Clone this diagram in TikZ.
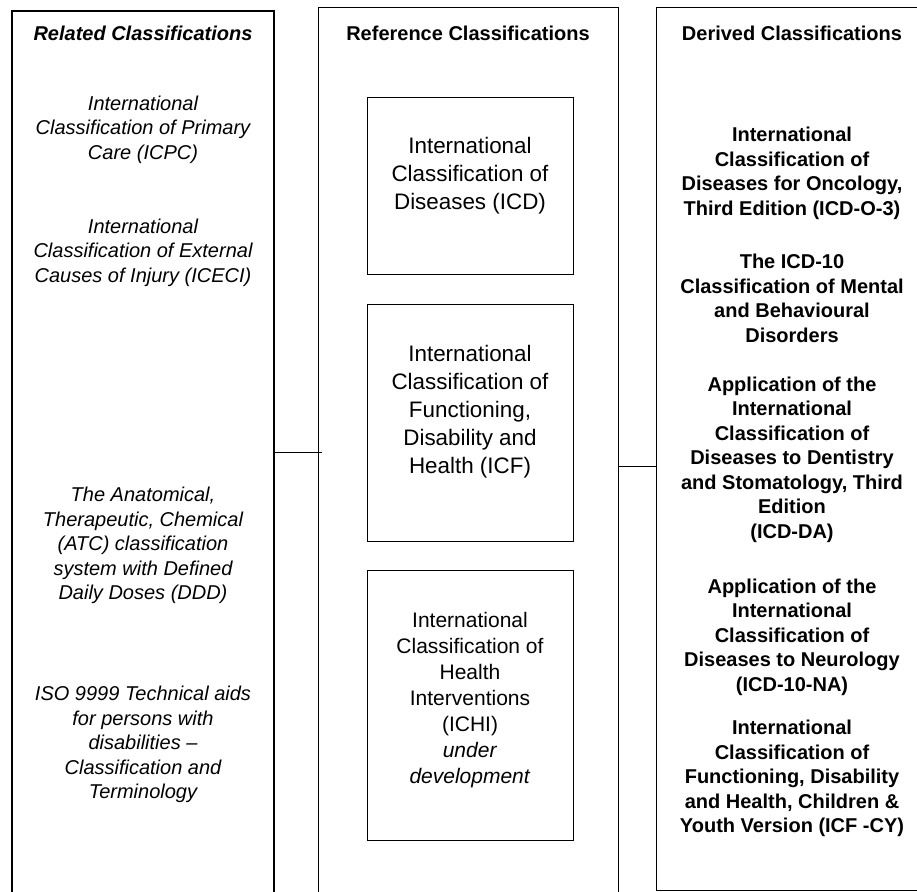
\documentclass[tikz,border=0pt]{standalone}
\usepackage{fontspec}
\setmainfont{Liberation Sans}
\usepackage{tikz}

\begin{document}
\begin{tikzpicture}[x=1pt, y=-1pt,
    every node/.style={align=center, inner sep=0pt},
    panel/.style={draw, line width=1pt, rectangle},
    inbox/.style={draw, line width=1pt, rectangle, minimum width=206},
    relatedtext/.style={font=\fontsize{20}{24.5}\selectfont\itshape},
    reftext/.style={font=\fontsize{22.4}{28}\selectfont},
    derivedtext/.style={font=\fontsize{20}{24.5}\selectfont\bfseries}]
    \useasboundingbox (0,0) rectangle (917,891);
    \clip (0,0) rectangle (917,891);

    % the three columns
    \node[panel, line width=1.3pt, minimum width=262, minimum height=882] (related) at (143,452) {};
    \node[panel, minimum width=300, minimum height=916] (reference) at (468,466) {};
    \node[panel, minimum width=272, minimum height=882] (derived) at (792,449) {};

    \draw[line width=1pt] (related.east) -- ([xshift=4pt]related.east -| reference.west);
    \draw[line width=1pt] (reference.east) -- (reference.east -| derived.west);

    % related classifications
    \node[relatedtext] (relhead) at (143,33) {\bfseries Related Classifications};
    \node[relatedtext] (icpc) at (143,129.5) {International\\Classification of Primary\\Care (ICPC)};
    \node[relatedtext] (iceci) at (143,252.5) {International\\Classification of External\\Causes of Injury (ICECI)};
    \node[relatedtext] (atc) at (143,545.5) {The Anatomical,\\Therapeutic, Chemical\\(ATC) classification\\system with Defined\\Daily Doses (DDD)};
    \node[relatedtext] (iso) at (143,744.5) {ISO 9999 Technical aids\\for persons with\\disabilities –\\Classification and\\Terminology};

    % reference classifications
    \node[derivedtext] (refhead) at (468,33) {Reference Classifications};
    \node[inbox, minimum height=177] (icd) at (470,185.5) {};
    \node[inbox, minimum height=237] (icf) at (470,422.5) {};
    \node[inbox, minimum height=270] (ichi) at (470,705) {};
    \node[reftext] (icdtext) at (470,176) {International\\Classification of\\Diseases (ICD)};
    \node[reftext] (icftext) at (470,412) {International\\Classification of\\Functioning,\\Disability and\\Health (ICF)};
    \node[reftext, font=\fontsize{21}{26}\selectfont] (ichitext) at (470,700) {International\\Classification of\\Health\\Interventions\\(ICHI)\\\textit{under}\\\textit{development}};

    % derived classifications
    \node[derivedtext] (derhead) at (792,33) {Derived Classifications};
    \node[derivedtext] (icdo) at (792,173.5) {International\\Classification of\\Diseases for Oncology,\\Third Edition (ICD-O-3)};
    \node[derivedtext] (mental) at (792,298.5) {The ICD-10\\Classification of Mental\\and Behavioural\\Disorders};
    \node[derivedtext] (icdda) at (792,459.5) {Application of the\\International\\Classification of\\Diseases to Dentistry\\and Stomatology, Third\\Edition\\(ICD-DA)};
    \node[derivedtext] (icdna) at (792,637) {Application of the\\International\\Classification of\\Diseases to Neurology\\(ICD-10-NA)};
    \node[derivedtext] (icfcy) at (792,778.5) {International\\Classification of\\Functioning, Disability\\and Health, Children \&\\Youth Version (ICF -CY)};
\end{tikzpicture}
\end{document}
